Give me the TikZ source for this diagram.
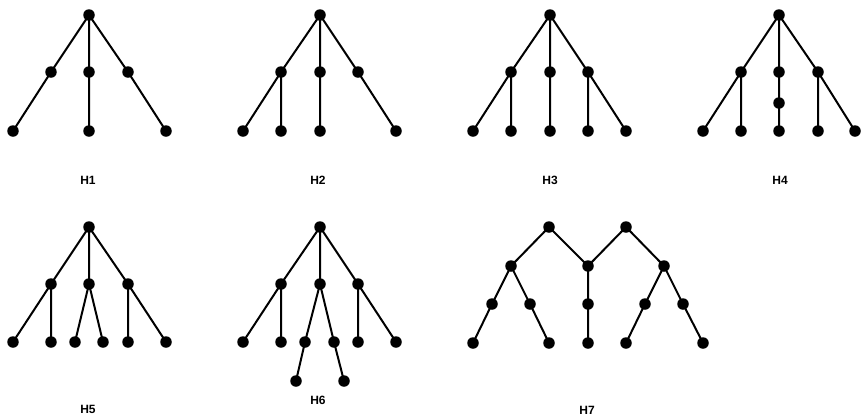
\documentclass[tikz,border=0pt]{standalone}
\usepackage{fontspec}
\setmainfont{Liberation Sans}
\begin{document}
\begin{tikzpicture}[x=1pt,y=-1pt,
  dot/.style={circle,fill=black,draw=none,inner sep=0pt,minimum size=11.5pt},
  edge/.style={line width=2pt,black},
  lbl/.style={font=\bfseries\fontsize{12}{13}\selectfont,inner sep=0pt}]
\useasboundingbox (0,0) rectangle (861,416);
% ---------- H1 ----------
\node[dot] (a0) at (89,15) {};
\node[dot] (a1) at (51,72) {};
\node[dot] (a2) at (89,72) {};
\node[dot] (a3) at (128,72) {};
\node[dot] (a4) at (13,131) {};
\node[dot] (a5) at (89,131) {};
\node[dot] (a6) at (166,131) {};
\draw[edge] (a0.center)--(a1.center) (a0.center)--(a2.center) (a0.center)--(a3.center)
  (a1.center)--(a4.center) (a2.center)--(a5.center) (a3.center)--(a6.center);
\node[lbl] (la) at (88,180) {H1};
% ---------- H2 ----------
\node[dot] (b0) at (320,15) {};
\node[dot] (b1) at (281,72) {};
\node[dot] (b2) at (320,72) {};
\node[dot] (b3) at (358,72) {};
\node[dot] (b4) at (243,131) {};
\node[dot] (b5) at (281,131) {};
\node[dot] (b6) at (320,131) {};
\node[dot] (b7) at (396,131) {};
\draw[edge] (b0.center)--(b1.center) (b0.center)--(b2.center) (b0.center)--(b3.center)
  (b1.center)--(b4.center) (b1.center)--(b5.center) (b2.center)--(b6.center) (b3.center)--(b7.center);
\node[lbl] (lb) at (318,180) {H2};
% ---------- H3 ----------
\node[dot] (c0) at (550,15) {};
\node[dot] (c1) at (511,72) {};
\node[dot] (c2) at (550,72) {};
\node[dot] (c3) at (588,72) {};
\node[dot] (c4) at (473,131) {};
\node[dot] (c5) at (511,131) {};
\node[dot] (c6) at (550,131) {};
\node[dot] (c7) at (588,131) {};
\node[dot] (c8) at (626,131) {};
\draw[edge] (c0.center)--(c1.center) (c0.center)--(c2.center) (c0.center)--(c3.center)
  (c1.center)--(c4.center) (c1.center)--(c5.center) (c2.center)--(c6.center)
  (c3.center)--(c7.center) (c3.center)--(c8.center);
\node[lbl] (lc) at (550,180) {H3};
% ---------- H4 ----------
\node[dot] (d0) at (779,15) {};
\node[dot] (d1) at (741,72) {};
\node[dot] (d2) at (779,72) {};
\node[dot] (d3) at (818,72) {};
\node[dot] (d9) at (779,103) {};
\node[dot] (d4) at (703,131) {};
\node[dot] (d5) at (741,131) {};
\node[dot] (d6) at (779,131) {};
\node[dot] (d7) at (818,131) {};
\node[dot] (d8) at (855,131) {};
\draw[edge] (d0.center)--(d1.center) (d0.center)--(d2.center) (d0.center)--(d3.center)
  (d1.center)--(d4.center) (d1.center)--(d5.center) (d2.center)--(d9.center) (d9.center)--(d6.center)
  (d3.center)--(d7.center) (d3.center)--(d8.center);
\node[lbl] (ld) at (780,180) {H4};
% ---------- H5 ----------
\node[dot] (e0) at (89,227) {};
\node[dot] (e1) at (51,284) {};
\node[dot] (e2) at (89,284) {};
\node[dot] (e3) at (128,284) {};
\node[dot] (e4) at (13,342) {};
\node[dot] (e5) at (51,342) {};
\node[dot] (e6) at (75,342) {};
\node[dot] (e7) at (103,342) {};
\node[dot] (e8) at (128,342) {};
\node[dot] (e9) at (166,342) {};
\draw[edge] (e0.center)--(e1.center) (e0.center)--(e2.center) (e0.center)--(e3.center)
  (e1.center)--(e4.center) (e1.center)--(e5.center) (e2.center)--(e6.center) (e2.center)--(e7.center)
  (e3.center)--(e8.center) (e3.center)--(e9.center);
\node[lbl] (le) at (88,409) {H5};
% ---------- H6 ----------
\node[dot] (f0) at (320,227) {};
\node[dot] (f1) at (281,284) {};
\node[dot] (f2) at (320,284) {};
\node[dot] (f3) at (358,284) {};
\node[dot] (f4) at (243,342) {};
\node[dot] (f5) at (281,342) {};
\node[dot] (f6) at (305,342) {};
\node[dot] (f7) at (334,342) {};
\node[dot] (f8) at (358,342) {};
\node[dot] (f9) at (396,342) {};
\node[dot] (f10) at (296,381) {};
\node[dot] (f11) at (344,381) {};
\draw[edge] (f0.center)--(f1.center) (f0.center)--(f2.center) (f0.center)--(f3.center)
  (f1.center)--(f4.center) (f1.center)--(f5.center) (f2.center)--(f6.center) (f2.center)--(f7.center)
  (f3.center)--(f8.center) (f3.center)--(f9.center)
  (f6.center)--(f10.center) (f7.center)--(f11.center);
\node[lbl] (lf) at (318,400) {H6};
% ---------- H7 ----------
\node[dot] (g0) at (549,227) {};
\node[dot] (g1) at (626,227) {};
\node[dot] (g2) at (511,266) {};
\node[dot] (g3) at (588,266) {};
\node[dot] (g4) at (664,266) {};
\node[dot] (g5) at (492,304) {};
\node[dot] (g6) at (530,304) {};
\node[dot] (g7) at (588,304) {};
\node[dot] (g8) at (645,304) {};
\node[dot] (g9) at (683,304) {};
\node[dot] (g10) at (473,343) {};
\node[dot] (g11) at (549,343) {};
\node[dot] (g12) at (588,343) {};
\node[dot] (g13) at (626,343) {};
\node[dot] (g14) at (703,343) {};
\draw[edge] (g0.center)--(g2.center) (g0.center)--(g3.center) (g1.center)--(g3.center) (g1.center)--(g4.center)
  (g2.center)--(g5.center) (g2.center)--(g6.center) (g3.center)--(g7.center)
  (g4.center)--(g8.center) (g4.center)--(g9.center)
  (g5.center)--(g10.center) (g6.center)--(g11.center) (g7.center)--(g12.center)
  (g8.center)--(g13.center) (g9.center)--(g14.center);
\node[lbl] (lg) at (587,410) {H7};
\end{tikzpicture}
\end{document}
